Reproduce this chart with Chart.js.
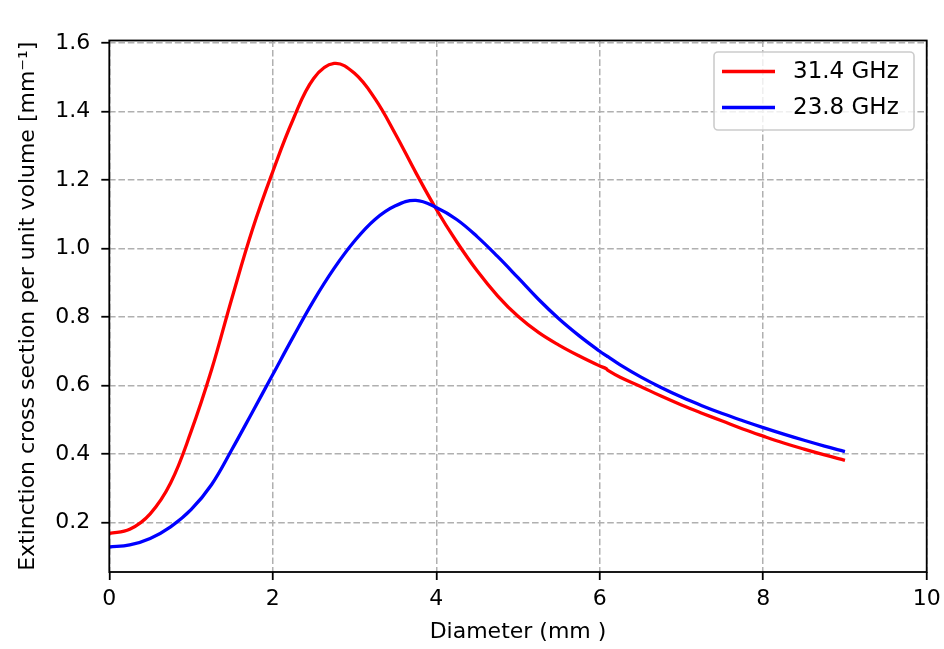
<!DOCTYPE html>
<html>
<head>
<meta charset="utf-8">
<script src="https://cdn.jsdelivr.net/npm/chart.js@4/dist/chart.umd.min.js"></script>
<style>
  html, body { margin: 0; padding: 0; background: #fff; }
  #wrap { width: 944px; height: 649px; }
</style>
</head>
<body>
<div id="wrap"><canvas id="chart" width="944" height="649"></canvas></div>
<script>
// Diameter (mm) sample points
const diameters = [0, 0.25, 0.5, 0.75, 1.0, 1.25, 1.5, 1.75, 2.0, 2.25, 2.5, 2.75, 3.0, 3.25, 3.5, 3.75,
                   4.0, 4.25, 4.5, 4.75, 5.0, 5.25, 5.5, 5.75, 6.0, 6.08, 6.1, 6.25, 6.5, 6.75, 7.0, 7.25,
                   7.5, 7.75, 8.0, 8.25, 8.5, 8.75, 9.0];
// 31.4 GHz extinction (mm^-1)
const ext314 = [0.168, 0.18, 0.225, 0.315, 0.465, 0.645, 0.855, 1.055, 1.225, 1.378, 1.497, 1.541, 1.512, 1.438, 1.335, 1.222,
                1.115, 1.02, 0.935, 0.862, 0.802, 0.755, 0.718, 0.686, 0.657, 0.649, 0.644, 0.624, 0.597, 0.569, 0.543, 0.519,
                0.496, 0.473, 0.452, 0.432, 0.414, 0.397, 0.381];
// 23.8 GHz extinction (mm^-1)
const ext238 = [0.128, 0.134, 0.153, 0.187, 0.237, 0.31, 0.413, 0.522, 0.632, 0.742, 0.848, 0.942, 1.022, 1.085, 1.125, 1.141,
                1.12, 1.085, 1.035, 0.977, 0.915, 0.852, 0.795, 0.745, 0.70, 0.687, 0.684, 0.66, 0.625, 0.594, 0.566, 0.541,
                0.518, 0.497, 0.477, 0.458, 0.44, 0.423, 0.407];

const xTicks = [0, 2, 4, 6, 8, 10];
const yTicks = [0.2, 0.4, 0.6, 0.8, 1.0, 1.2, 1.4, 1.6];
const seriesLabels = ["31.4 GHz", "23.8 GHz"];
const seriesColors = ["#ff0000", "#0000ff"];

const FONT = "'DejaVu Sans', sans-serif";
const FS = 22;

const toPoints = (ys) => diameters.map((d, i) => ({ x: d, y: ys[i] }));

// axes frame (all four spines) drawn on top of the curves
const framePlugin = {
    id: "frame",
    afterDatasetsDraw(chart) {
        const { ctx, chartArea: a } = chart;
        ctx.save();
        ctx.strokeStyle = "#000";
        ctx.lineWidth = 1.8;
        ctx.strokeRect(a.left, a.top, a.right - a.left, a.bottom - a.top);
        ctx.restore();
    }
};

// matplotlib style legend box in the upper right
const legendPlugin = {
    id: "mplLegend",
    afterDraw(chart) {
        const { ctx, chartArea: a } = chart;
        const w = 200, h = 78;
        const x = a.right - 12.7 - w, y = a.top + 11.5;
        ctx.save();
        ctx.beginPath();
        ctx.roundRect(x, y, w, h, 4);
        ctx.fillStyle = "rgba(255,255,255,0.8)";
        ctx.fill();
        ctx.strokeStyle = "#cccccc";
        ctx.lineWidth = 1.6;
        ctx.stroke();
        ctx.font = "23px " + FONT;
        ctx.textBaseline = "middle";
        ctx.fillStyle = "#000";
        seriesLabels.forEach((lab, i) => {
            const ly = y + 19.5 + i * 36;
            ctx.strokeStyle = seriesColors[i];
            ctx.lineWidth = 3.3;
            ctx.beginPath();
            ctx.moveTo(x + 8, ly);
            ctx.lineTo(x + 61, ly);
            ctx.stroke();
            ctx.fillText(lab, x + 79, ly + 1);
        });
        ctx.restore();
    }
};

const gridOpts = { color: "#b0b0b0", lineWidth: 1.5, tickColor: "#000", tickLength: 8, tickWidth: 1.8 };

const ctx = document.getElementById("chart").getContext("2d");
new Chart(ctx, {
    type: "line",
    data: {
        datasets: [
            {
                label: seriesLabels[0],
                data: toPoints(ext314),
                borderColor: seriesColors[0],
                borderWidth: 3.3,
                pointRadius: 0,
                fill: false,
                tension: 0.4,
                order: 1
            },
            {
                label: seriesLabels[1],
                data: toPoints(ext238),
                borderColor: seriesColors[1],
                borderWidth: 3.3,
                pointRadius: 0,
                fill: false,
                tension: 0.4,
                order: 0
            }
        ]
    },
    options: {
        responsive: false,
        animation: false,
        devicePixelRatio: 1,
        layout: { padding: { top: 40.5, right: 17.3, bottom: 0, left: 0 } },
        plugins: {
            legend: { display: false },
            tooltip: { enabled: false }
        },
        scales: {
            x: {
                type: "linear",
                min: 0,
                max: 10,
                afterBuildTicks: (s) => { s.ticks = xTicks.map(v => ({ value: v })); },
                afterFit: (s) => { s.height = 77; s.paddingLeft = 0; s.paddingRight = 0; },
                grid: gridOpts,
                border: { display: false, dash: [6.6, 2.8] },
                ticks: {
                    color: "#000",
                    font: { family: FONT, size: FS },
                    padding: 6,
                    maxRotation: 0,
                    callback: (v) => String(v)
                },
                title: {
                    display: true,
                    text: "Diameter (mm )",
                    color: "#000",
                    font: { family: FONT, size: FS },
                    padding: { top: 0, bottom: 4 }
                }
            },
            y: {
                type: "linear",
                min: 0.055,
                max: 1.608,
                afterBuildTicks: (s) => { s.ticks = yTicks.map(v => ({ value: v })); },
                afterFit: (s) => { s.width = 109.3; s.paddingTop = 0; s.paddingBottom = 0; },
                grid: gridOpts,
                border: { display: false, dash: [6.6, 2.8] },
                ticks: {
                    color: "#000",
                    font: { family: FONT, size: FS },
                    padding: 11,
                    callback: (v) => v.toFixed(1)
                },
                title: {
                    display: true,
                    text: "Extinction cross section per unit volume [mm\u207B\u00B9]",
                    color: "#000",
                    font: { family: FONT, size: FS },
                    padding: { top: 15, bottom: 0 }
                }
            }
        }
    },
    plugins: [framePlugin, legendPlugin]
});
</script>
</body>
</html>
